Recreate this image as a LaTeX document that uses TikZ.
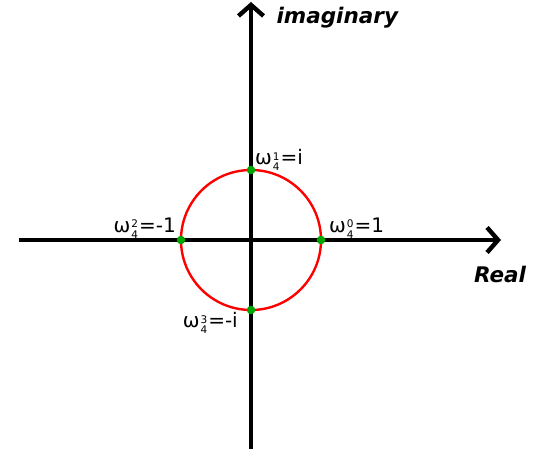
\documentclass[tikz,border=0pt]{standalone}
\usepackage{fontspec}
\setmainfont{DejaVu Sans}
\usetikzlibrary{arrows.meta}
\newcommand{\wroot}[3]{ω\kern1pt\raisebox{-.6ex}{\fontsize{10.5}{8.5}\selectfont\shortstack{#1\\#2}}\kern1pt=#3}

\begin{document}
\begin{tikzpicture}[
  x=1pt,y=1pt,
  >={Straight Barb[length=11pt,width=25pt]},
  every node/.style={font=\fontsize{20}{22}\selectfont},
  axis/.style={line width=4.4pt,->},
  dot/.style={circle,fill=green!65!black,inner sep=3pt},
  lbl/.style={font=\fontsize{21.5}{24}\selectfont\bfseries\itshape}
]
\useasboundingbox (-251,-223) rectangle (290,240);
\coordinate (O) at (0,0);
\coordinate (W) at (-232,0);
\coordinate (E) at (250,0);
\coordinate (S) at (0,-209);
\coordinate (N) at (0,238);
\draw[axis] (W) -- (E);
\draw[axis] (S) -- (N);
\draw[red,line width=2.4pt] (O) circle (70);
% the four roots
\node[dot] (w0) at (0:70) {};
\node[dot] (w1) at (90:70) {};
\node[dot] (w2) at (180:70) {};
\node[dot] (w3) at (270:70) {};
\node[anchor=west,inner sep=0pt] (l0) at (78,12) {\wroot{0}{4}{1}};
\node[anchor=west,inner sep=0pt] (l1) at (4,80) {\wroot{1}{4}{i}};
\node[anchor=east,inner sep=0pt] (l2) at (-75,12) {\wroot{2}{4}{-1}};
\node[anchor=east,inner sep=0pt] (l3) at (-13,-83) {\wroot{3}{4}{-i}};
\node[lbl,anchor=west] (im) at (22,222) {imaginary};
\node[lbl] (re) at (249,-34) {Real};
\end{tikzpicture}
\end{document}
